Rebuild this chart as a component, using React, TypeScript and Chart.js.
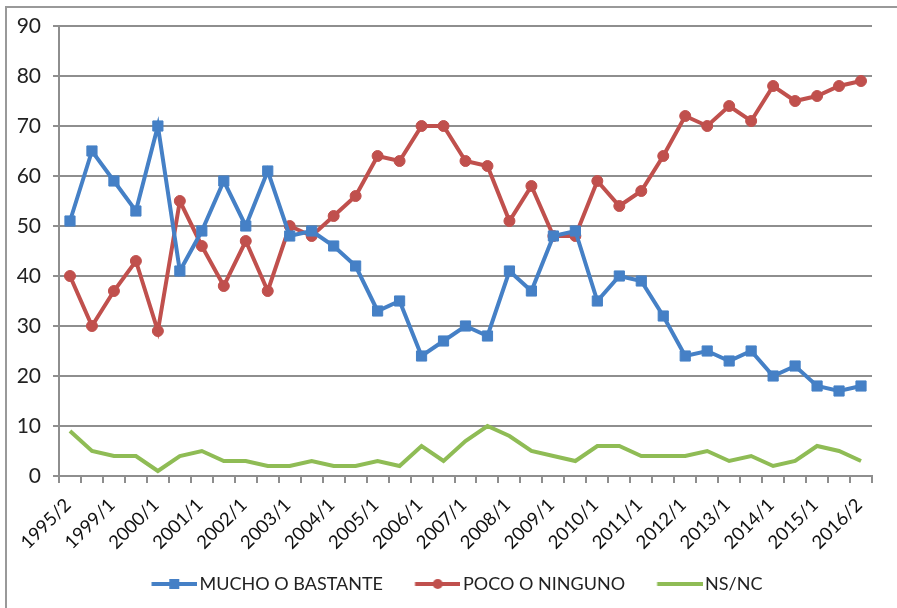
import React, { useEffect, useRef } from "react";
import { Chart, registerables } from "chart.js";

Chart.register(...registerables);

const categories = [
  "1995/2", "1998/1", "1999/1", "1999/2", "2000/1", "2000/2", "2001/1", "2001/2",
  "2002/1", "2002/2", "2003/1", "2003/2", "2004/1", "2004/2", "2005/1", "2005/2",
  "2006/1", "2006/2", "2007/1", "2007/2", "2008/1", "2008/2", "2009/1", "2009/2",
  "2010/1", "2010/2", "2011/1", "2011/2", "2012/1", "2012/2", "2013/1", "2013/2",
  "2014/1", "2014/2", "2015/1", "2016/1", "2016/2",
];

const mucho = [
  51, 65, 59, 53, 70, 41, 49, 59, 50, 61, 48, 49, 46, 42, 33, 35, 24, 27, 30, 28,
  41, 37, 48, 49, 35, 40, 39, 32, 24, 25, 23, 25, 20, 22, 18, 17, 18,
];

const poco = [
  40, 30, 37, 43, 29, 55, 46, 38, 47, 37, 50, 48, 52, 56, 64, 63, 70, 70, 63, 62,
  51, 58, 48, 48, 59, 54, 57, 64, 72, 70, 74, 71, 78, 75, 76, 78, 79,
];

const nsnc = [
  9, 5, 4, 4, 1, 4, 5, 3, 3, 2, 2, 3, 2, 2, 3, 2, 6, 3, 7, 10, 8, 5, 4, 3, 6, 6,
  4, 4, 4, 5, 3, 4, 2, 3, 6, 5, 3,
];

const seriesNames = ["MUCHO O BASTANTE", "POCO O NINGUNO", "NS/NC"];
const yTicks = [0, 10, 20, 30, 40, 50, 60, 70, 80, 90];

const BLUE = "#4580c6";
const RED = "#c0504d";
const GREEN = "#8fbc55";
const GRID = "#8e8e8e";
const FONT = "Lato, 'Open Sans', sans-serif";

function legendImage(color: string, marker: "rect" | "circle" | null) {
  const c = document.createElement("canvas");
  c.width = 52;
  c.height = 14;
  const ctx = c.getContext("2d")!;
  const x0 = 6.5;
  const x1 = 52;
  ctx.strokeStyle = color;
  ctx.lineWidth = 4;
  ctx.beginPath();
  ctx.moveTo(x0, 7);
  ctx.lineTo(x1, 7);
  ctx.stroke();
  const cx = (x0 + x1) / 2;
  ctx.fillStyle = color;
  if (marker === "rect") {
    ctx.fillRect(cx - 5, 2, 10, 10);
  } else if (marker === "circle") {
    ctx.beginPath();
    ctx.arc(cx, 7, 5, 0, Math.PI * 2);
    ctx.fill();
  }
  return c;
}

const legendPlace = {
  id: "legendPlace",
  afterLayout(chart: any) {
    const lg = chart.legend;
    if (lg) {
      lg.left += 21;
      lg.right += 21;
      lg.top = 543;
      lg.bottom = 608;
      lg.height = 65;
    }
  },
};

export default function App() {
  const ref = useRef<HTMLCanvasElement | null>(null);

  useEffect(() => {
    if (!ref.current) return;
    const imgs = [legendImage(BLUE, "rect"), legendImage(RED, "circle"), legendImage(GREEN, null)];
    const chart = new Chart(ref.current, {
      type: "line",
      plugins: [legendPlace],
      data: {
        labels: categories,
        datasets: [
          {
            label: seriesNames[0],
            data: mucho,
            borderColor: BLUE,
            backgroundColor: BLUE,
            borderWidth: 4,
            pointStyle: "rect",
            pointRadius: 7.2,
            pointBorderWidth: 1,
            pointBackgroundColor: BLUE,
            pointBorderColor: BLUE,
            tension: 0,
          },
          {
            label: seriesNames[1],
            data: poco,
            borderColor: RED,
            backgroundColor: RED,
            borderWidth: 4,
            pointStyle: "circle",
            pointRadius: 5.5,
            pointBorderWidth: 1,
            pointBackgroundColor: RED,
            pointBorderColor: RED,
            tension: 0,
          },
          {
            label: seriesNames[2],
            data: nsnc,
            borderColor: GREEN,
            backgroundColor: GREEN,
            borderWidth: 4,
            pointRadius: 0,
            tension: 0,
          },
        ],
      },
      options: {
        responsive: false,
        animation: false,
        layout: { padding: { left: 0, right: 25, top: 26, bottom: 4 } },
        scales: {
          x: {
            offset: true,
            grid: {
              offset: true,
              drawOnChartArea: false,
              drawTicks: true,
              tickLength: 7,
              color: GRID,
              lineWidth: 2,
            },
            border: { display: true, color: GRID, width: 2 },
            ticks: {
              autoSkip: false,
              maxRotation: 45,
              minRotation: 45,
              padding: 11,
              labelOffset: -2,
              color: "#111",
              font: { family: FONT, size: 18.5 },
              callback: (_v: any, i: number) => (i % 2 === 0 ? categories[i] : ""),
            },
            afterFit: (s: any) => {
              s.height = 88;
            },
          },
          y: {
            min: 0,
            max: 90,
            afterBuildTicks: (s: any) => {
              s.ticks = yTicks.map((v) => ({ value: v }));
            },
            grid: {
              color: GRID,
              lineWidth: 2,
              drawTicks: true,
              tickLength: 6,
            },
            border: { display: true, color: GRID, width: 2 },
            ticks: {
              color: "#222",
              padding: 12,
              font: { family: FONT, size: 21 },
            },
            afterFit: (s: any) => {
              s.width = 59;
            },
          },
        },
        plugins: {
          tooltip: { enabled: false },
          legend: {
            position: "bottom",
            maxHeight: 40,
            labels: {
              usePointStyle: true,
              pointStyleWidth: 39,
              padding: 32,
              color: "#222",
              font: { family: FONT, size: 18 },
              generateLabels: (ch: any) => {
                const items = (Chart.defaults.plugins.legend.labels as any).generateLabels(ch);
                return items.map((it: any, i: number) => ({ ...it, pointStyle: imgs[i] }));
              },
            },
          },
        },
      },
    });
    return () => chart.destroy();
  }, []);

  return (
    <div style={{ position: "absolute", left: 0, top: 0, width: 897, height: 608, background: "#fff", overflow: "hidden" }}>
      <div
        style={{
          position: "absolute",
          left: 5,
          top: 6,
          width: 900,
          height: 610,
          borderLeft: "2px solid #999",
          borderTop: "2px solid #999",
          boxSizing: "border-box",
        }}
      />
      <canvas ref={ref} width={897} height={608} style={{ position: "absolute", left: 0, top: 0 }} />
    </div>
  );
}
